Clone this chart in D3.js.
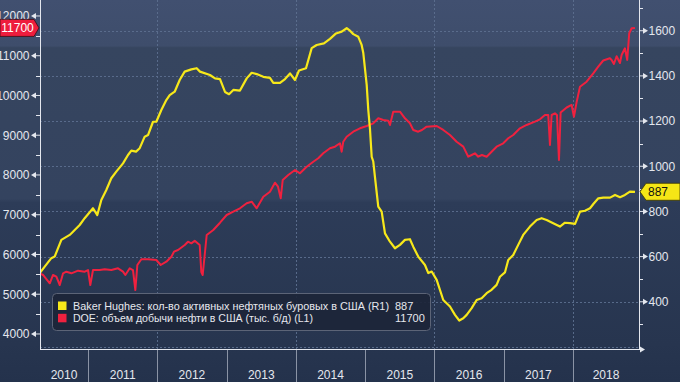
<!DOCTYPE html>
<html><head><meta charset="utf-8">
<script src="https://cdn.jsdelivr.net/npm/d3@7/dist/d3.min.js"></script>
<style>html,body{margin:0;padding:0;background:#2a3854;overflow:hidden}svg{display:block}</style>
</head><body><svg id="c" width="680" height="382"></svg>
<script>
// ---------- data ----------
const years = [2010, 2011, 2012, 2013, 2014, 2015, 2016, 2017, 2018];
const leftTicks = [4000, 5000, 6000, 7000, 8000, 9000, 10000, 11000, 12000];
const rightTicks = [400, 600, 800, 1000, 1200, 1400, 1600];
const gridRight = [200, 400, 600, 800, 1000, 1200, 1400, 1600];
const gridYears = [2012, 2014, 2016, 2018];

// Baker Hughes oil rigs (right axis), time in decimal years
const rigTime = [2010.303,2010.375,2010.470,2010.519,2010.615,2010.736,2010.808,2010.880,2010.952,2011.072,2011.134,2011.192,2011.264,2011.336,2011.408,2011.505,2011.577,2011.625,2011.693,2011.746,2011.818,2011.866,2011.938,2011.986,2012.058,2012.130,2012.179,2012.251,2012.323,2012.395,2012.491,2012.568,2012.616,2012.760,2012.833,2012.905,2012.977,2013.035,2013.097,2013.193,2013.290,2013.362,2013.434,2013.530,2013.626,2013.674,2013.771,2013.843,2013.915,2013.987,2014.045,2014.146,2014.228,2014.300,2014.405,2014.492,2014.579,2014.661,2014.733,2014.781,2014.829,2014.901,2014.949,2014.973,2015.022,2015.045,2015.069,2015.094,2015.117,2015.141,2015.189,2015.238,2015.286,2015.358,2015.430,2015.502,2015.574,2015.646,2015.694,2015.766,2015.863,2015.911,2015.960,2016.032,2016.127,2016.224,2016.296,2016.358,2016.416,2016.465,2016.537,2016.609,2016.681,2016.753,2016.825,2016.897,2016.945,2017.017,2017.065,2017.137,2017.209,2017.281,2017.378,2017.475,2017.547,2017.619,2017.714,2017.811,2017.883,2017.955,2018.029,2018.101,2018.173,2018.245,2018.293,2018.365,2018.437,2018.534,2018.606,2018.678,2018.749,2018.821,2018.894];
const rigs = [527,556,593,600,674,696,718,740,770,814,784,851,895,947,976,1013,1050,1069,1065,1080,1131,1138,1197,1197,1249,1293,1315,1330,1382,1419,1429,1434,1419,1404,1389,1386,1329,1319,1338,1335,1389,1414,1408,1396,1391,1369,1369,1386,1411,1382,1424,1434,1523,1537,1544,1564,1588,1596,1611,1600,1585,1573,1537,1501,1360,1249,1167,1042,1021,953,821,799,703,666,637,652,674,677,644,600,563,527,534,497,408,379,342,317,327,342,372,408,416,438,453,475,511,530,585,607,652,696,733,762,770,762,748,733,750,748,745,799,803,814,833,858,861,861,873,863,873,888,887];

// DOE US crude production, thousand b/d (left axis)
const prodTime = [2010.303,2010.351,2010.448,2010.495,2010.543,2010.592,2010.640,2010.687,2010.760,2010.856,2010.953,2011.000,2011.033,2011.072,2011.169,2011.241,2011.336,2011.433,2011.505,2011.538,2011.602,2011.649,2011.683,2011.712,2011.770,2011.866,2011.986,2012.049,2012.130,2012.203,2012.241,2012.299,2012.396,2012.443,2012.491,2012.540,2012.612,2012.635,2012.655,2012.713,2012.808,2012.905,2013.001,2013.097,2013.193,2013.290,2013.362,2013.434,2013.530,2013.626,2013.698,2013.742,2013.781,2013.810,2013.890,2013.987,2014.059,2014.156,2014.251,2014.323,2014.395,2014.492,2014.564,2014.636,2014.661,2014.684,2014.733,2014.828,2014.925,2015.022,2015.117,2015.189,2015.261,2015.333,2015.358,2015.405,2015.502,2015.574,2015.646,2015.694,2015.766,2015.820,2015.887,2016.032,2016.127,2016.224,2016.320,2016.416,2016.488,2016.537,2016.584,2016.632,2016.685,2016.753,2016.825,2016.897,2016.993,2017.065,2017.137,2017.234,2017.330,2017.450,2017.522,2017.595,2017.642,2017.667,2017.691,2017.739,2017.768,2017.797,2017.821,2017.908,2017.980,2018.013,2018.052,2018.100,2018.196,2018.292,2018.364,2018.436,2018.532,2018.557,2018.590,2018.629,2018.677,2018.701,2018.749,2018.782,2018.811,2018.846,2018.893];
const prod = [5526,5484,5275,5484,5441,5232,5526,5567,5526,5592,5567,5609,5232,5609,5609,5627,5609,5652,5567,5484,5652,5609,5106,5735,5879,5879,5861,5735,5818,5944,6070,6113,6238,6321,6280,6347,6238,5559,5484,6490,6616,6799,6993,7076,7162,7288,7328,7162,7454,7579,7806,7705,7413,7874,8000,8125,8042,8208,8334,8420,8546,8671,8712,8797,8586,8837,8963,9089,9175,9232,9300,9426,9383,9366,9258,9592,9592,9426,9300,9132,9089,9132,9215,9232,9132,9006,8837,8712,8460,8503,8546,8460,8503,8460,8586,8712,8797,8923,9006,9175,9258,9341,9401,9509,9509,8754,9509,9552,9509,8377,9572,9698,9761,9466,9836,10221,10347,10558,10724,10880,10936,10893,10792,10986,10817,11019,11187,10893,11565,11691,11700];

const legendLabels = [
  "Baker Hughes: кол-во активных нефтяных буровых в США (R1)",
  "DOE: объем добычи нефти в США (тыс. б/д) (L1)"
];
const legendValues = ["887", "11700"];
const seriesColors = ["#f7e81a", "#f0213f"];

// ---------- layout ----------
const W = 680, H = 382;
const L = 40, R = 639, T = 0, B = 349;
const svg = d3.select("#c");
const font = '"Liberation Sans", Arial, sans-serif';

const defs = svg.append("defs");
const bg = defs.append("linearGradient").attr("id","bg").attr("x1",0).attr("y1",0).attr("x2",0).attr("y2",1);
[[0,"#415070"],[0.12,"#3e4d6b"],[0.125,"#36455f"],[0.52,"#34435f"],[0.53,"#2d3c58"],[0.9,"#27354f"],[1,"#24324c"]]
  .forEach(s => bg.append("stop").attr("offset", s[0]).attr("stop-color", s[1]));
defs.append("clipPath").attr("id","plot").append("rect").attr("x",L).attr("y",T).attr("width",R-L).attr("height",B-T);

svg.append("rect").attr("width",W).attr("height",H).attr("fill","url(#bg)");

const x = d3.scaleLinear().domain([2010.307, 2018.952]).range([L, R]);
const yL = d3.scaleLinear().domain([3622, 12402]).range([B, T]);
const yR = d3.scaleLinear().domain([191, 1736]).range([B, T]);

// gridlines
const grid = svg.append("g").attr("stroke","#5d7090").attr("stroke-width",1).attr("stroke-dasharray","2,2").attr("opacity",0.9);
gridRight.forEach(v => grid.append("line").attr("x1",L).attr("x2",R).attr("y1",Math.round(yR(v))+0.5).attr("y2",Math.round(yR(v))+0.5));
gridYears.forEach(v => grid.append("line").attr("y1",T).attr("y2",B).attr("x1",Math.round(x(v))+0.5).attr("x2",Math.round(x(v))+0.5));

// lines
const plot = svg.append("g").attr("clip-path","url(#plot)");
const prodLine = d3.line().x((d,i)=>x(prodTime[i])).y(d=>yL(d));
const rigLine = d3.line().x((d,i)=>x(rigTime[i])).y(d=>yR(d));
plot.append("path").attr("d", prodLine(prod)).attr("fill","none").attr("stroke",seriesColors[1]).attr("stroke-width",2).attr("stroke-linejoin","round");
plot.append("path").attr("d", rigLine(rigs)).attr("fill","none").attr("stroke",seriesColors[0]).attr("stroke-width",2.2).attr("stroke-linejoin","round");

// axes lines
const axCol = "#e4e7ee";
svg.append("line").attr("x1",L+0.5).attr("x2",L+0.5).attr("y1",0).attr("y2",B+1).attr("stroke",axCol);
svg.append("line").attr("x1",R+0.5).attr("x2",R+0.5).attr("y1",0).attr("y2",B+1).attr("stroke",axCol);
svg.append("line").attr("x1",L).attr("x2",R+2).attr("y1",B+0.5).attr("y2",B+0.5).attr("stroke",axCol);
svg.append("path").attr("d",`M${R+1},${B-2.5}L${R+6},${B+0.5}L${R+1},${B+3.5}Z`).attr("fill",axCol);

// left axis
const gL = svg.append("g").attr("transform",`translate(${L},0)`)
  .call(d3.axisLeft(yL).tickValues(leftTicks).tickSize(0).tickPadding(10.5).tickFormat(d3.format("d")));
gL.select(".domain").remove();
gL.selectAll("text").attr("fill",axCol).style("font",`12px ${font}`);
leftTicks.forEach(v => {
  const y = yL(v);
  svg.append("path").attr("d",`M${L-9},${y}L${L-4},${y-3}L${L-4},${y+3}Z`).attr("fill",axCol);
  svg.append("line").attr("x1",L-4).attr("x2",L).attr("y1",y).attr("y2",y).attr("stroke",axCol);
});
leftTicks.slice(0,-1).forEach(v => {
  const y = Math.round(yL(v+500))+0.5;
  svg.append("line").attr("x1",L-4).attr("x2",L).attr("y1",y).attr("y2",y).attr("stroke",axCol);
});
{ const y = Math.round(yL(3500 + 0))+0.5; }

// right axis
const gR = svg.append("g").attr("transform",`translate(${R},0)`)
  .call(d3.axisRight(yR).tickValues(rightTicks).tickSize(0).tickPadding(9.5).tickFormat(d3.format("d")));
gR.select(".domain").remove();
gR.selectAll("text").attr("fill",axCol).style("font",`12px ${font}`);
rightTicks.forEach(v => {
  const y = yR(v);
  svg.append("line").attr("x1",R).attr("x2",R+4).attr("y1",y).attr("y2",y).attr("stroke",axCol);
  svg.append("path").attr("d",`M${R+4},${y-3}L${R+9},${y}L${R+4},${y+3}Z`).attr("fill",axCol);
});
[300,500,700,900,1100,1300,1500,1700].forEach(v => {
  const y = Math.round(yR(v))+0.5;
  svg.append("line").attr("x1",R).attr("x2",R+4).attr("y1",y).attr("y2",y).attr("stroke",axCol);
});

// bottom year bands
const d0 = x.domain()[0], d1 = x.domain()[1];
years.forEach(yv => {
  const a = Math.max(yv, d0), b = Math.min(yv+1, d1);
  svg.append("text").attr("x", x((a+b)/2)).attr("y", 379).attr("text-anchor","middle")
    .attr("fill",axCol).style("font",`12px ${font}`).text(yv);
  if (yv > d0) svg.append("line").attr("x1",Math.round(x(yv))+0.5).attr("x2",Math.round(x(yv))+0.5)
    .attr("y1",B+1).attr("y2",H).attr("stroke","#8a93a5");
});

// legend
const lg = svg.append("g");
lg.append("rect").attr("x",52.5).attr("y",293.5).attr("width",378).attr("height",37).attr("rx",4)
  .attr("fill","#1c2538").attr("fill-opacity",0.92).attr("stroke","#5c6477");
const lw = [316, 240];
legendLabels.forEach((t,i) => {
  const cy = 306 + i*12.3;
  lg.append("rect").attr("x",58).attr("y",cy-4.5).attr("width",8.5).attr("height",8.5).attr("fill",seriesColors[i]);
  lg.append("text").attr("x",73).attr("y",cy+4).attr("fill","#e6e8ee").style("font",`11px ${font}`)
    .attr("textLength",lw[i]).attr("lengthAdjust","spacingAndGlyphs").text(t);
  lg.append("text").attr("x",395).attr("y",cy+4).attr("fill","#e6e8ee").style("font",`11px ${font}`).text(legendValues[i]);
});

// value tags
const cyL = yL(prod[prod.length-1]);
svg.append("path").attr("d",`M0,${cyL-8.5}L34,${cyL-8.5}L39,${cyL}L34,${cyL+8.5}L0,${cyL+8.5}Z`)
  .attr("fill","#ee1d3d").attr("stroke","#3a0a12").attr("stroke-width",0.8);
svg.append("text").attr("x",17.5).attr("y",cyL+4.3).attr("text-anchor","middle").attr("fill","#ffffff")
  .style("font",`12px ${font}`).text(d3.format("d")(prod[prod.length-1]));
const cyR = yR(rigs[rigs.length-1]);
svg.append("path").attr("d",`M640,${cyR}L646,${cyR-8.5}L680,${cyR-8.5}L680,${cyR+8.5}L646,${cyR+8.5}Z`)
  .attr("fill","#f5e616").attr("stroke","#3a3500").attr("stroke-width",0.8);
svg.append("text").attr("x",648).attr("y",cyR+4.3).attr("fill","#111111")
  .style("font",`12px ${font}`).text(rigs[rigs.length-1]);
</script>
</body></html>
